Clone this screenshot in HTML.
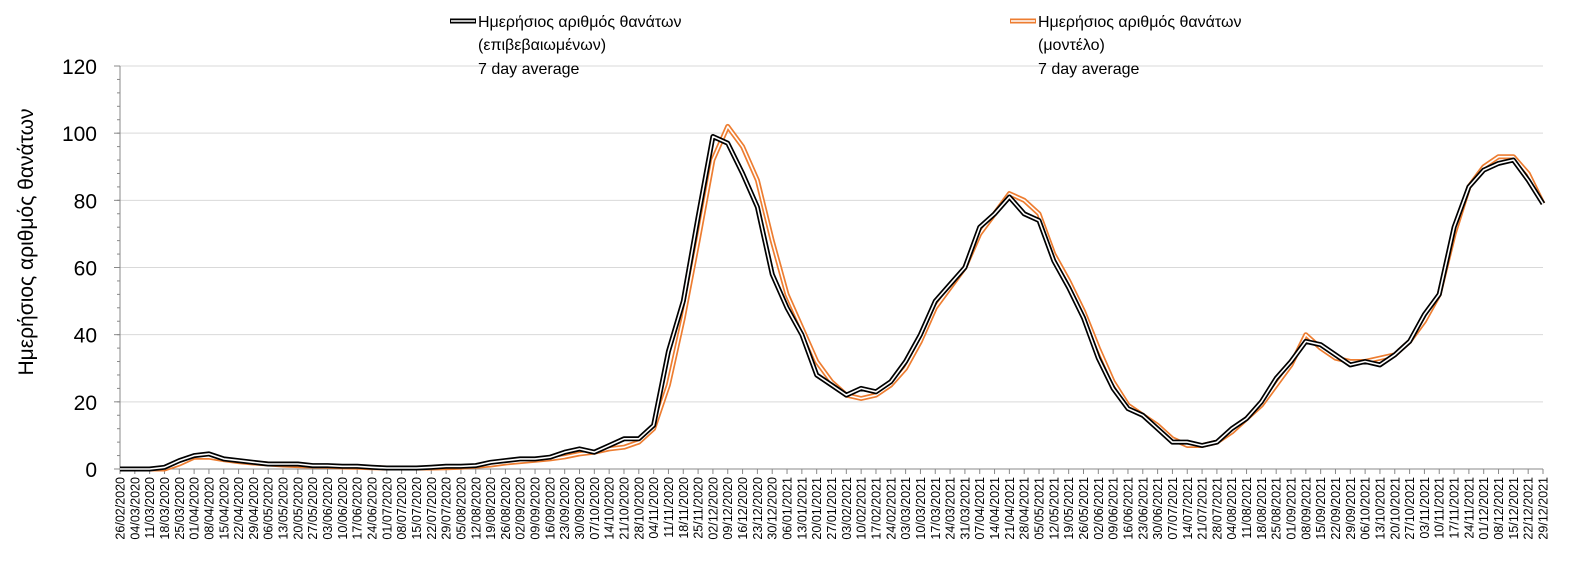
<!DOCTYPE html>
<html><head><meta charset="utf-8"><style>
body{margin:0;background:#fff;}
svg{display:block;font-family:"Liberation Sans","DejaVu Sans",sans-serif;}
</style></head><body>
<svg id="chart" width="1578" height="564" viewBox="0 0 1578 564">
<g id="grid"></g>
<g id="axes"></g>
<g id="series"></g>
<g>
 <g>
  <line x1="450" y1="21" x2="476" y2="21" stroke="#000" stroke-width="5"/>
  <line x1="451" y1="21" x2="475" y2="21" stroke="#fff" stroke-width="1.6"/>
  <text x="478" y="27" font-size="16">Ημερήσιος αριθμός θανάτων</text>
  <text x="478" y="50" font-size="16">(επιβεβαιωμένων)</text>
  <text x="478" y="74" font-size="16">7 day average</text>
 </g>
 <g>
  <line x1="1010" y1="21" x2="1036" y2="21" stroke="#ed7d31" stroke-width="5"/>
  <line x1="1011" y1="21" x2="1035" y2="21" stroke="#fff" stroke-width="1.6"/>
  <text x="1038" y="27" font-size="16">Ημερήσιος αριθμός θανάτων</text>
  <text x="1038" y="50" font-size="16">(μοντέλο)</text>
  <text x="1038" y="74" font-size="16">7 day average</text>
 </g>
</g>
<text transform="translate(33,242) rotate(-90)" text-anchor="middle" font-size="21" fill="#000">Ημερήσιος αριθμός θανάτων</text>
</svg>
<script>
const yTicks=[0,20,40,60,80,100,120];
const confirmed=[0,0,0,0.5,2.5,4,4.5,3,2.5,2,1.5,1.5,1.5,1,1,0.8,0.8,0.5,0.3,0.3,0.3,0.5,0.8,0.8,1,2,2.5,3,3,3.5,5,6,5,7,9,9,13,35,50,75,99,97,88,78,58,48,40,28,25,22,24,23,26,32,40,50,55,60,72,76,81,76,74,62,54,45,33,24,18,16,12,8,8,7,8,12,15,20,27,32,38,37,34,31,32,31,34,38,46,52,72,84,89,91,92,86,79];
const model=[0,0,0,0,1.5,3.5,3.5,2.8,2.2,1.8,1.5,1.2,1,0.9,0.8,0.6,0.5,0.4,0.3,0.3,0.3,0.3,0.4,0.5,0.8,1.2,1.8,2.2,2.6,3,3.6,4.5,5,6,6.5,8,12,25,45,68,92,102,96,86,68,52,42,32,26,22,21,22,25,30,38,48,54,60,70,76,82,80,76,64,56,47,36,26,19,16,13,9,7,7,8,11,15,19,25,31,40,36,33,32,32,33,34,38,44,52,70,84,90,93,93,88,79];
const startDate=new Date(2020,1,26);
const X0=120,X1=1543,Y0=469,Y1=66;
const n=confirmed.length;
function xs(i){return X0+i*(X1-X0)/(n-1);}
function ys(v){return Y0-(v/120)*(Y0-Y1);}
const NS="http://www.w3.org/2000/svg";
function mk(tag,attrs,parent){const e=document.createElementNS(NS,tag);for(const k in attrs)e.setAttribute(k,attrs[k]);parent.appendChild(e);return e;}
const grid=document.getElementById('grid'),axes=document.getElementById('axes'),series=document.getElementById('series');
yTicks.forEach(t=>{
 if(t>0){const g=mk('line',{x1:X0,x2:X1,y1:ys(t),y2:ys(t),stroke:'#d9d9d9','stroke-width':1},grid);
 
 }
 const lb=mk('text',{x:97,y:ys(t)+8,'text-anchor':'end','font-size':21},axes);
 lb.textContent=t;
 
 
 mk('line',{x1:X0-6,x2:X0,y1:ys(t),y2:ys(t),stroke:'#888'},axes);
});
for(let v=0;v<=120;v+=4){mk('line',{x1:X0-3,x2:X0,y1:ys(v),y2:ys(v),stroke:'#888'},axes);}
mk('line',{x1:X0,x2:X0,y1:Y1,y2:Y0,stroke:'#888'},axes);
mk('line',{x1:X0,x2:X1,y1:Y0,y2:Y0,stroke:'#888'},axes);
function pad(x){return (x<10?'0':'')+x;}
for(let i=0;i<n;i++){
 const x=xs(i);
 mk('line',{x1:x,x2:x,y1:Y0,y2:Y0+5,stroke:'#888'},axes);
 const d=new Date(startDate.getTime()+i*7*86400000);
 const s=pad(d.getDate())+'/'+pad(d.getMonth()+1)+'/'+d.getFullYear();
 const t=mk('text',{transform:`translate(${x+4.5},${Y0+8}) rotate(-90)`,'text-anchor':'end','font-size':12.5},axes);
 t.textContent=s;
 
 
}
function path(arr){return arr.map((v,i)=>(i?'L':'M')+xs(i).toFixed(1)+','+ys(v).toFixed(1)).join('');}
[[model,'#ed7d31','model-line'],[confirmed,'#000','confirmed-line']].forEach(([arr,c,nm])=>{
 const o=mk('path',{d:path(arr),fill:'none',stroke:c,'stroke-width':5,'stroke-linejoin':'round'},series);
 
 
 mk('path',{d:path(arr),fill:'none',stroke:'#fff','stroke-width':1.6,'stroke-linejoin':'round'},series);
});
</script>
</body></html>
